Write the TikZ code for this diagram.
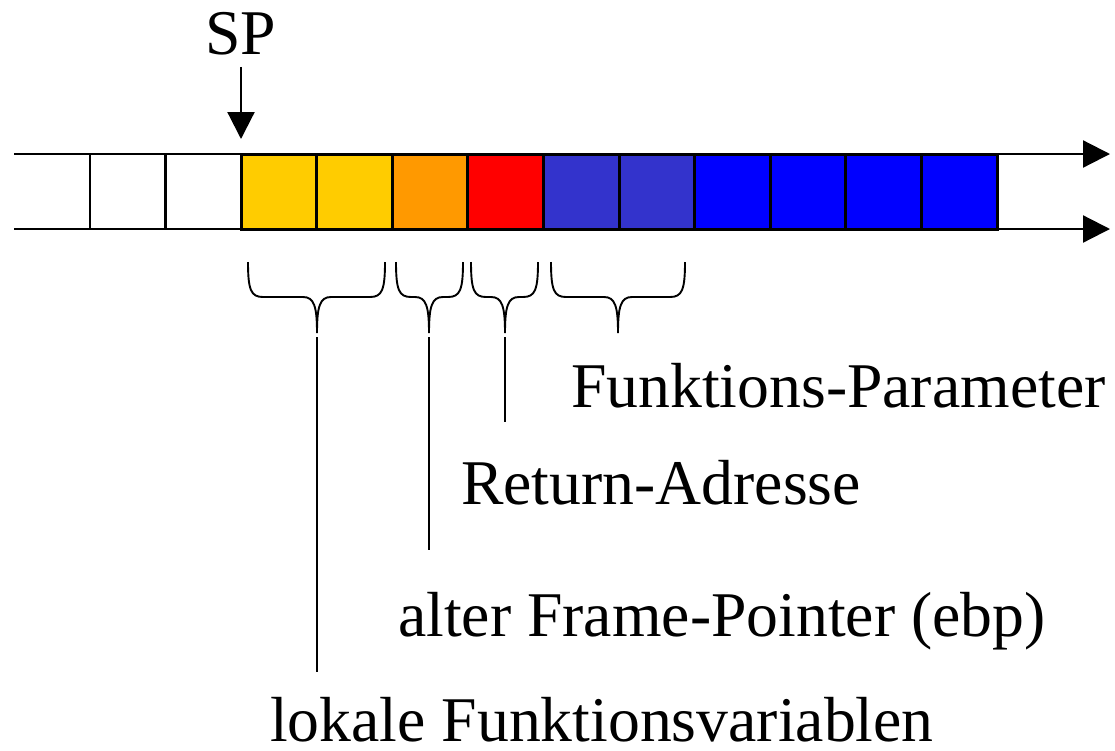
\documentclass[tikz,border=0pt]{standalone}
\usepackage{fontspec}
\setmainfont{Liberation Serif}
\usetikzlibrary{arrows.meta}
\definecolor{cyellow}{HTML}{FFCC00}
\definecolor{corange}{HTML}{FF9900}
\definecolor{cred}{HTML}{FF0000}
\definecolor{cpurple}{HTML}{3333CC}
\definecolor{cblue}{HTML}{0000FF}
\newcommand{\curlyb}[4]{%
  \draw[brace] (#1,262) .. controls (#1,290) and ({#1+3},297) .. ({#1+15},297)
    -- ({#3-14},297) .. controls ({#3-3},297) and (#3,306) .. (#3,333)
    .. controls (#3,306) and ({#3+3},297) .. ({#3+14},297)
    -- ({#2-15},297) .. controls ({#2-3},297) and (#2,290) .. (#2,262);
  \coordinate (#4) at (#3,337);}
\begin{document}
\begin{tikzpicture}[x=1pt,y=-1pt,
  rail/.style={line width=2.2pt, -{Triangle[length=27pt,width=27pt]}},
  divider/.style={line width=2.2pt},
  cellbox/.style={draw=black, line width=3pt},
  lbl/.style={inner sep=0pt, font=\fontsize{63.7}{70}\selectfont},
  brace/.style={line width=1.9pt},
  leader/.style={line width=1.9pt},
  sparrow/.style={line width=2.2pt, -{Triangle[length=27pt,width=27pt]}},
]
\useasboundingbox (0,0) rectangle (1115,750);
% rails
\coordinate (r1a) at (14,154);
\coordinate (r1b) at (1110,154);
\coordinate (r2a) at (14,229);
\coordinate (r2b) at (1110,229);
\draw[rail] (r1a) -- (r1b);
\draw[rail] (r2a) -- (r2b);
% white cell dividers
\foreach \i in {1,2}{
  \draw[divider] ({14.2+75.6*\i},154) -- ({14.2+75.6*\i},229);
}
% coloured cells
\foreach \i/\c in {0/cyellow,1/cyellow,2/corange,3/cred,4/cpurple,5/cpurple,6/cblue,7/cblue,8/cblue,9/cblue}{
  \filldraw[cellbox, fill=\c] ({241+75.6*\i},154) rectangle ({241+75.6*(\i+1)},229);
}
% SP
\node[lbl, anchor=base] (sp) at (241,54) {SP};
\coordinate (sptip) at (241,139);
\draw[sparrow] ([yshift=-12pt]sp.south) -- (sptip);
% braces
\curlyb{248}{385}{317}{b1}
\curlyb{396}{463}{429}{b2}
\curlyb{471}{538}{505}{b3}
\curlyb{551}{685}{618}{b4}
% labels
\node[lbl, anchor=base west] (fp) at (571,407) {Funktions-Parameter};
\node[lbl, anchor=base west] (ra) at (461,504) {Return-Adresse};
\node[lbl, anchor=base west] (af) at (398,636) {alter Frame-Pointer (ebp)};
\node[lbl, anchor=base west] (lv) at (270,741) {lokale Funktionsvariablen};
% leaders
\coordinate (e1) at (317,672);
\coordinate (e2) at (429,550);
\coordinate (e3) at (505,422);
\draw[leader] (b1) -- (e1);
\draw[leader] (b2) -- (e2);
\draw[leader] (b3) -- (e3);
\end{tikzpicture}
\end{document}
